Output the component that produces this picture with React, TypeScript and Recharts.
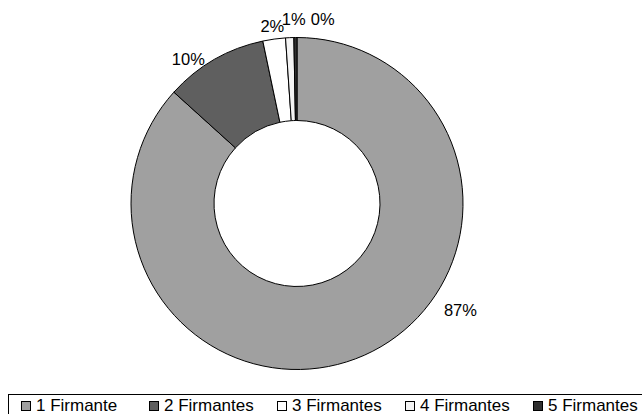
import { PieChart, Pie, Cell, Legend } from "recharts";

const categories = ["1 Firmante", "2 Firmantes", "3 Firmantes", "4 Firmantes", "5 Firmantes"];
const shares = [86.7, 10.0, 2.2, 0.8, 0.3];
const labels = ["87%", "10%", "2%", "1%", "0%"];
const colors = ["#a0a0a0", "#5f5f5f", "#ffffff", "#f4f4f4", "#303030"];

// small nudges (clockwise degrees, extra radius) mimicking Excel's label placement
const labelNudge = [
  { da: -33, dr: 29 },
  { da: -7, dr: 15 },
  { da: 0, dr: 13 },
  { da: 1.5, dr: 19 },
  { da: 8.5, dr: 20 },
];

const data = categories.map((name, i) => ({ name, value: shares[i] }));

const FONT = "'Liberation Sans', Arial, sans-serif";
const RAD = Math.PI / 180;

const renderLabel = (props: any) => {
  const { cx, cy, midAngle, outerRadius, index } = props;
  const n = labelNudge[index];
  // recharts midAngle is counter-clockwise from east
  const a = (midAngle - n.da) * RAD;
  const r = outerRadius + n.dr;
  const x = cx + r * Math.cos(a);
  const y = cy - r * Math.sin(a);
  return (
    <text
      x={x}
      y={y}
      textAnchor="middle"
      dominantBaseline="central"
      fontFamily={FONT}
      fontSize={16.5}
      fill="#000"
    >
      {labels[index]}
    </text>
  );
};

const renderLegend = () => (
  <div
    style={{
      borderTop: "1px solid #000",
      borderLeft: "1px solid #000",
      height: 30,
      display: "flex",
      alignItems: "flex-start",
      paddingLeft: 12,
      paddingTop: 1,
      boxSizing: "border-box",
      fontFamily: FONT,
      fontSize: 17,
      lineHeight: "19px",
      color: "#000",
    }}
  >
    {categories.map((c, i) => (
      <div key={c} style={{ display: "flex", alignItems: "center", width: 128, flex: "none" }}>
        <span
          style={{
            width: 8,
            height: 8,
            background: colors[i],
            border: "1px solid #000",
            marginRight: 5,
            display: "inline-block",
            flex: "none",
          }}
        />
        <span style={{ whiteSpace: "nowrap" }}>{c}</span>
      </div>
    ))}
  </div>
);

export default function App() {
  return (
    <div style={{ position: "absolute", left: 0, top: 0, width: 642, height: 414, background: "#fff", overflow: "hidden" }}>
      <PieChart width={642} height={414} margin={{ top: 0, right: 0, bottom: 0, left: 0 }}>
        <Pie
          data={data}
          dataKey="value"
          nameKey="name"
          cx={297}
          cy={203.5}
          innerRadius={83}
          outerRadius={166}
          startAngle={90}
          endAngle={-270}
          stroke="#000"
          strokeWidth={1}
          label={renderLabel}
          labelLine={false}
          isAnimationActive={false}
        >
          {data.map((d, i) => (
            <Cell key={d.name} fill={colors[i]} />
          ))}
        </Pie>
        <Legend
          content={renderLegend}
          wrapperStyle={{ left: 8, top: 394, width: 700, height: 30 }}
        />
      </PieChart>
    </div>
  );
}
